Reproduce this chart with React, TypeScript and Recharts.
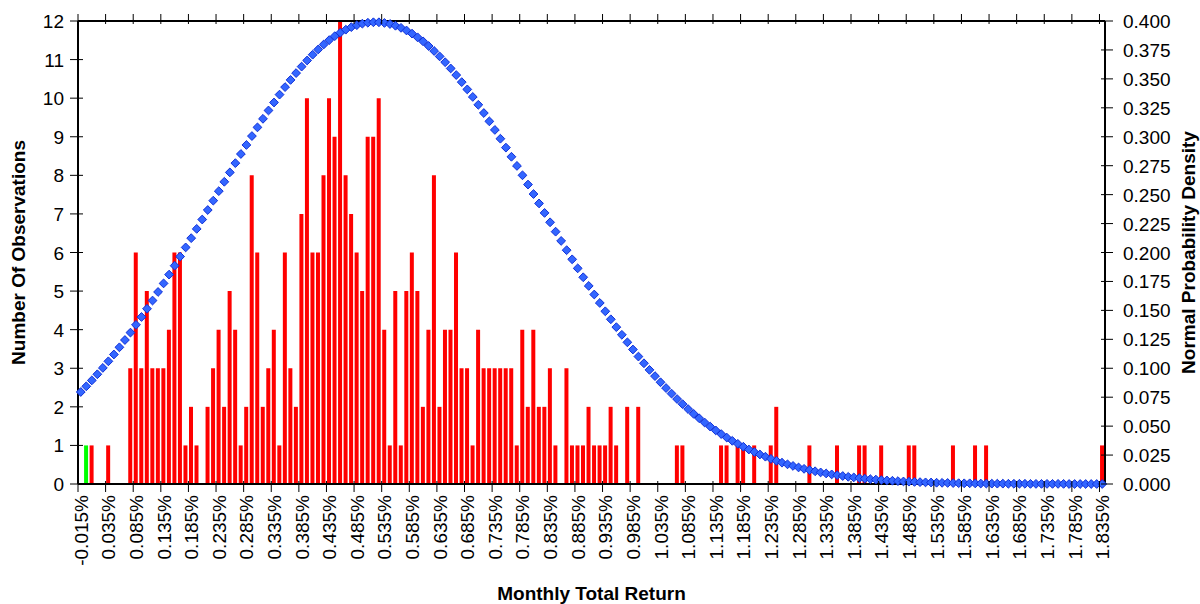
import React from "react";
import { ComposedChart, Bar, Line, XAxis, YAxis, Cell, Label } from "recharts";

// bins: -0.015% .. 1.835% in 0.01% steps
const FIRST_BIN = -0.015;
const BIN_STEP = 0.01;

// number of months falling in each bin
const OBSERVATIONS = [
  0, 1, 1, 0, 0, 1, 0, 0, 0, 3,
  6, 3, 5, 3, 3, 3, 4, 6, 6, 1,
  2, 1, 0, 2, 3, 4, 2, 5, 4, 1,
  2, 8, 6, 2, 3, 4, 1, 6, 3, 2,
  7, 10, 6, 6, 8, 10, 9, 12, 8, 7,
  6, 5, 9, 9, 10, 4, 1, 5, 1, 5,
  6, 5, 2, 4, 8, 2, 4, 4, 6, 3,
  3, 1, 4, 3, 3, 3, 3, 3, 3, 1,
  4, 2, 4, 2, 2, 3, 1, 0, 3, 1,
  1, 1, 2, 1, 1, 1, 2, 1, 0, 2,
  0, 2, 0, 0, 0, 0, 0, 0, 1, 1,
  0, 0, 0, 0, 0, 0, 1, 1, 0, 1,
  1, 0, 1, 0, 0, 1, 2, 0, 0, 0,
  0, 0, 1, 0, 0, 0, 0, 1, 0, 0,
  0, 1, 1, 0, 0, 1, 0, 0, 0, 0,
  1, 1, 0, 0, 0, 0, 0, 0, 1, 0,
  0, 0, 1, 0, 1, 0, 0, 0, 0, 0,
  0, 0, 0, 0, 0, 0, 0, 0, 0, 0,
  0, 0, 0, 0, 0, 1,
];

// normal curve
const DENSITY = [
  0.0795, 0.0844, 0.0895, 0.0948, 0.1003, 0.106, 0.1119, 0.1181, 0.1244, 0.1308,
  0.1375, 0.1443, 0.1514, 0.1585, 0.1659, 0.1733, 0.1809, 0.1886, 0.1965, 0.2044,
  0.2124, 0.2204, 0.2285, 0.2367, 0.2448, 0.253, 0.2611, 0.2692, 0.2772, 0.2851,
  0.2929, 0.3006, 0.3081, 0.3155, 0.3227, 0.3296, 0.3364, 0.3429, 0.3491, 0.355,
  0.3606, 0.3659, 0.3709, 0.3754, 0.3797, 0.3835, 0.3869, 0.3899, 0.3925, 0.3947,
  0.3964, 0.3977, 0.3985, 0.3989, 0.3989, 0.3983, 0.3974, 0.3959, 0.3941, 0.3918,
  0.3891, 0.3859, 0.3824, 0.3784, 0.3741, 0.3694, 0.3644, 0.359, 0.3533, 0.3472,
  0.3409, 0.3344, 0.3276, 0.3205, 0.3133, 0.3059, 0.2983, 0.2906, 0.2827, 0.2748,
  0.2667, 0.2587, 0.2505, 0.2424, 0.2342, 0.2261, 0.218, 0.21, 0.202, 0.1941,
  0.1863, 0.1786, 0.1711, 0.1637, 0.1564, 0.1492, 0.1423, 0.1355, 0.1289, 0.1224,
  0.1162, 0.1101, 0.1043, 0.0986, 0.0932, 0.0879, 0.0829, 0.0781, 0.0734, 0.069,
  0.0647, 0.0606, 0.0568, 0.0531, 0.0496, 0.0463, 0.0431, 0.0401, 0.0373, 0.0347,
  0.0322, 0.0298, 0.0276, 0.0255, 0.0236, 0.0217, 0.02, 0.0184, 0.017, 0.0156,
  0.0143, 0.0131, 0.012, 0.011, 0.01, 0.0091, 0.0083, 0.0076, 0.0069, 0.0062,
  0.0057, 0.0051, 0.0046, 0.0042, 0.0038, 0.0034, 0.0031, 0.0028, 0.0025, 0.0022,
  0.002, 0.0018, 0.0016, 0.0014, 0.0013, 0.0011, 0.001, 0.0009, 0.0008, 0.0007,
  0.0006, 0.0006, 0.0005, 0.0004, 0.0004, 0.0003, 0.0003, 0.0003, 0.0002, 0.0002,
  0.0002, 0.0002, 0.0001, 0.0001, 0.0001, 0.0001, 0.0001, 0.0001, 0.0001, 0,
  0, 0, 0, 0, 0, 0,
];

const RETURN_LABELS = OBSERVATIONS.map(
  (_, i) => `${(FIRST_BIN + i * BIN_STEP).toFixed(3)}%`
);
const HIGHLIGHT_LABEL = "-0.005%";

const COUNT_TICKS = [0, 1, 2, 3, 4, 5, 6, 7, 8, 9, 10, 11, 12];
const DENSITY_TICKS = [
  0, 0.025, 0.05, 0.075, 0.1, 0.125, 0.15, 0.175, 0.2, 0.225, 0.25, 0.275,
  0.3, 0.325, 0.35, 0.375, 0.4,
];

const data = RETURN_LABELS.map((label, i) => ({
  label,
  count: OBSERVATIONS[i],
  density: DENSITY[i],
}));

const FONT = '"Liberation Sans", Arial, Helvetica, sans-serif';
const PLOT_W = 1027;
const HALF_BAND = PLOT_W / RETURN_LABELS.length / 2;

const BottomTick = ({ x, y, payload }: any) => {
  const tx = x + 7;
  const ty = y + 9;
  return (
    <g>
      <line x1={x - HALF_BAND} x2={x - HALF_BAND} y1={y - 5} y2={y + 6} stroke="#000" />
      <text
        x={tx}
        y={ty}
        transform={`rotate(-90, ${tx}, ${ty})`}
        textAnchor="end"
        fontSize={19}
        fontFamily={FONT}
        fill="#000"
      >
        {payload.value}
      </text>
    </g>
  );
};

const TopTick = ({ x, y }: any) => (
  <line x1={x - HALF_BAND} x2={x - HALF_BAND} y1={y - 5} y2={y + 5} stroke="#000" />
);

const LeftTick = ({ x, y, payload }: any) => (
  <g>
    <line x1={x - 6} x2={x + 7} y1={y} y2={y} stroke="#000" />
    <text x={x - 12} y={y + 7} textAnchor="end" fontSize={19} fontFamily={FONT} fill="#000">
      {payload.value}
    </text>
  </g>
);

const RightTick = ({ x, y, payload }: any) => (
  <g>
    <line x1={x - 6} x2={x + 6} y1={y} y2={y} stroke="#000" />
    <text x={x + 16} y={y + 7} textAnchor="start" fontSize={19} fontFamily={FONT} fill="#000">
      {Number(payload.value).toFixed(3)}
    </text>
  </g>
);

const Diamond = ({ cx, cy }: any) => {
  if (cx == null || cy == null) return null;
  const r = 4.4;
  return (
    <path
      d={`M${cx},${cy - r}L${cx + r},${cy}L${cx},${cy + r}L${cx - r},${cy}Z`}
      fill="#3366ff"
      stroke="#1030d8"
      strokeWidth={1}
    />
  );
};

const titleStyle = { textAnchor: "middle" as const };

export default function App() {
  return (
    <div style={{ position: "absolute", left: 0, top: 0, width: 1200, height: 604, background: "#fff" }}>
      <ComposedChart
        width={1200}
        height={604}
        data={data}
        margin={{ top: 0, right: 0, bottom: 0, left: 0 }}
        barCategoryGap="10%"
        style={{ fontFamily: FONT }}
      >
        <XAxis
          xAxisId="bottom"
          dataKey="label"
          interval={4}
          height={120}
          tickSize={0}
          tickLine={false}
          tick={<BottomTick />}
          axisLine={{ stroke: "#000", strokeWidth: 2 }}
        >
          <Label
            value="Monthly Total Return"
            position="insideBottom"
            offset={4}
            fontSize={19}
            fontWeight="bold"
            fill="#000"
            fontFamily={FONT}
          />
        </XAxis>
        <XAxis
          xAxisId="top"
          orientation="top"
          dataKey="label"
          interval={4}
          height={21}
          tickSize={0}
          tickLine={false}
          tick={<TopTick />}
          axisLine={{ stroke: "#000", strokeWidth: 2 }}
        />
        <YAxis
          yAxisId="left"
          width={78}
          domain={[0, 12]}
          ticks={COUNT_TICKS}
          interval={0}
          tickSize={0}
          tickLine={false}
          tick={<LeftTick />}
          axisLine={{ stroke: "#000", strokeWidth: 2 }}
        >
          <Label
            value="Number Of Observations"
            angle={-90}
            position="insideLeft"
            offset={18}
            style={titleStyle}
            fontSize={19}
            fontWeight="bold"
            fill="#000"
            fontFamily={FONT}
          />
        </YAxis>
        <YAxis
          yAxisId="right"
          orientation="right"
          width={95}
          domain={[0, 0.4]}
          ticks={DENSITY_TICKS}
          interval={0}
          tickSize={0}
          tickLine={false}
          tick={<RightTick />}
          axisLine={{ stroke: "#000", strokeWidth: 2 }}
        >
          <Label
            value="Normal Probability Density"
            angle={-90}
            position="insideRight"
            offset={12}
            style={titleStyle}
            fontSize={19}
            fontWeight="bold"
            fill="#000"
            fontFamily={FONT}
          />
        </YAxis>
        <Bar xAxisId="bottom" yAxisId="left" dataKey="count" isAnimationActive={false}>
          {data.map((d, i) => (
            <Cell key={`cell-${i}`} fill={d.label === HIGHLIGHT_LABEL ? "#00ff00" : "#ff0000"} />
          ))}
        </Bar>
        <Line
          xAxisId="bottom"
          yAxisId="right"
          dataKey="density"
          stroke="none"
          dot={(p: any) => <Diamond key={`dot-${p.index}`} {...p} />}
          activeDot={false}
          isAnimationActive={false}
        />
      </ComposedChart>
    </div>
  );
}
